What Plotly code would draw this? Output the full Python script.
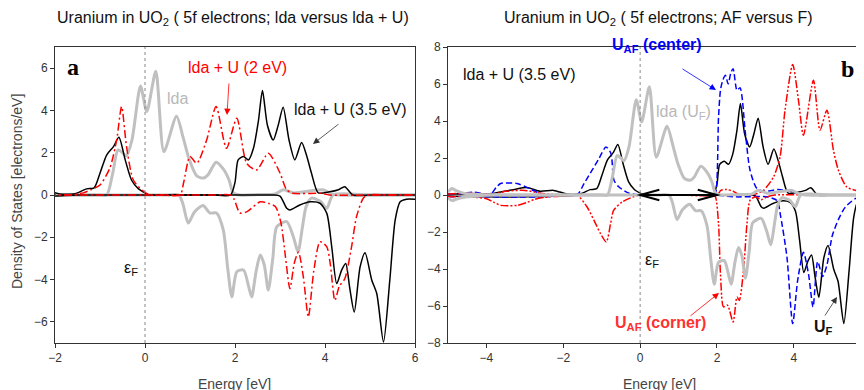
import plotly.graph_objects as go

# ---------------- data (energy in eV, DOS in electrons/eV) ----------------
# lda (gray), spin up / spin down
lda_up_e = [-5, -4.9, -4.8, -4.6, -4.4, -4.0, -3.0, -2.0, -1.5, -1.0, -0.85, -0.72, -0.6, -0.5, -0.42, -0.29, -0.1,
            0.04, 0.24, 0.42, 0.70, 0.85, 0.98, 1.15, 1.3, 1.4, 1.58, 1.75, 1.87, 1.96, 2.1, 2.5, 2.9, 3.07, 3.3,
            3.7, 3.95, 4.15, 4.3, 5.0, 6.0]
lda_up_dos = [0.15, 0.35, 0.25, 0.1, 0.05, 0, 0, 0, 0, 0, 0, 1.0, 2.13, 2.0, 1.85, 2.6, 5.15,
              3.95, 5.85, 2.05, 3.72, 2.7, 1.7, 0.9, 0.8, 0.95, 1.55, 1.2, 0.7, 0.1, 0, 0.02, 0.05, 0.25, 0.1,
              0.2, 0.25, 0.05, 0, 0, 0]
lda_dn_e = [-5, -4.9, -4.75, -4.5, -4.2, -4.0, -3.0, -2.0, -1.0, 0.0, 0.5, 0.75, 0.84, 0.96, 1.1, 1.29, 1.44, 1.59,
            1.74, 1.84, 1.93, 2.04, 2.19, 2.3, 2.37, 2.47, 2.56, 2.65, 2.74, 2.84, 2.93, 3.15, 3.3, 3.4, 3.5, 3.58,
            3.7, 3.9, 4.04, 4.18, 5.0, 6.0]
lda_dn_dos = [-0.15, -0.3, -0.2, -0.1, -0.05, 0, 0, 0, 0, 0, 0, 0, -0.4, -1.33, -0.8, -0.5, -0.85, -0.85,
              -1.66, -3.5, -4.82, -3.63, -3.55, -4.3, -4.82, -3.6, -2.84, -3.3, -4.5, -3.0, -1.5, -1.26, -2.0, -2.69, -1.5, -0.55,
              -0.15, -0.3, -0.63, 0, 0, 0]

# lda + U (2 eV), red dash-dot (left panel)
u2_up_e = [-5, -2, -1.6, -1.37, -1.2, -1.0, -0.78, -0.63, -0.52, -0.41, -0.26, -0.07, 0.1, 0.4, 0.78, 0.86, 1.0,
           1.15, 1.37, 1.58, 1.81, 2.04, 2.26, 2.48, 2.74, 3.0, 3.15, 3.3, 3.9, 4.1, 5.0, 6]
u2_up_dos = [0, 0, 0.02, 0.1, 0.25, 0.47, 1.28, 2.6, 4.18, 2.29, 0.71, 0.24, 0, 0, 0, 0.6, 1.82,
             1.5, 2.6, 4.18, 2.21, 3.63, 1.5, 1.18, 1.97, 1.04, 0.24, 0.08, 0.08, 0, 0, 0]
u2_dn_e = [-5, -2, 0, 1.0, 1.5, 1.9, 1.98, 2.11, 2.26, 2.56, 2.75, 2.9, 3.02, 3.12, 3.22, 3.32, 3.41, 3.52, 3.63,
           3.75, 3.89, 4.04, 4.12, 4.22, 4.32, 4.44, 4.59, 4.70, 4.85, 4.95, 5.5, 6]
u2_dn_dos = [0, 0, 0, 0, 0, 0, -0.2, -0.85, -0.8, -0.32, -0.4, -0.55, -1.3, -2.9, -4.43, -3.2, -2.7, -3.9, -5.77,
             -3.6, -2.21, -2.45, -3.3, -4.99, -4.3, -3.96, -2.45, -1.03, -0.15, 0, 0, 0]

# lda + U (3.5 eV), black (both panels; U_F)
u35_up_e = [-5, -4.5, -4.0, -3.8, -3.3, -2.95, -2.6, -2.25, -1.9, -1.6, -1.5, -1.3, -1.13, -1.0, -0.85, -0.7,
            -0.58, -0.44, -0.3, -0.15, 0.0, 0.1, 0.5, 1.0, 1.5, 1.9, 2.0, 2.07, 2.19, 2.3, 2.41, 2.52, 2.61, 2.72,
            2.85, 2.96, 3.07, 3.2, 3.33, 3.48, 3.6, 3.7, 3.85, 4.1, 4.3, 4.44, 4.62, 5.0, 5.5, 6]
u35_up_dos = [0.05, 0.05, 0.05, 0.1, 0.29, 0.4, 0.2, 0.25, 0.05, 0.05, 0.1, 0.29, 0.34, 1.03, 1.9, 2.29,
              2.73, 1.66, 0.71, 0.3, 0.1, 0, 0, 0, 0, 0, 0.6, 1.66, 1.82, 1.66, 2.21, 3.5, 4.94, 3.3,
              2.6, 3.3, 4.15, 2.6, 1.66, 2.48, 1.8, 1.03, 0.1, 0.15, 0.25, 0.39, 0, 0, 0, 0]
u35_dn_e = [-5, -4.0, -3.0, -2.0, -1.5, -1.0, 0, 1.0, 2.0, 2.5, 2.85, 3.0, 3.15, 3.22, 3.44, 3.67, 3.89, 4.04,
            4.15, 4.26, 4.37, 4.46, 4.55, 4.65, 4.78, 4.89, 5.04, 5.15, 5.30, 5.44, 5.56, 5.67, 5.81, 6.0]
u35_dn_dos = [-0.05, -0.1, -0.1, -0.05, 0, 0, 0, 0, 0, 0, 0, -0.05, -0.63, -0.71, -0.47, -0.32, -0.39, -0.87,
              -2.45, -4.19, -3.55, -3.24, -4.4, -5.53, -3.4, -2.73, -4.03, -4.66, -6.95, -4.03, -1.18, -0.32, -0.2, -0.2]

# U_AF (center), blue dashed (right panel)
afc_up_e = [-5, -4.6, -4.32, -3.89, -3.75, -3.63, -3.2, -2.94, -2.68, -2.42, -2.0, -1.64, -1.46, -1.25, -1.07,
            -0.89, -0.76, -0.68, -0.55, -0.29, 0, 0.5, 1.0, 1.5, 1.9, 1.96, 2.04, 2.09, 2.15, 2.22, 2.29, 2.36,
            2.42, 2.52, 2.6, 2.74, 2.86, 3.04, 3.25, 3.6, 4.0, 4.3, 5.0, 6]
afc_up_dos = [0.05, 0.1, 0.15, 0.05, 0.4, 0.62, 0.62, 0.4, 0.15, 0, 0, 0, 0.62, 1.34, 1.97,
              2.6, 2.24, 0.8, 0.43, 0.1, 0, 0, 0, 0, 0, 0.08, 4.2, 5.66, 6.2, 6.47, 6.0, 6.6,
              6.83, 5.66, 5.8, 3.32, 1.34, 0.35, 0.2, 0.3, 0.15, 0, 0, 0]
afc_dn_e = [-5, -4.0, -2.5, -2.0, -1.0, 0, 1.0, 1.9, 2.5, 3.3, 3.56, 3.66, 3.82, 3.97, 4.1, 4.25, 4.38, 4.5,
            4.62, 4.75, 4.86, 5.0, 5.17, 5.34, 5.6, 5.8, 6]
afc_dn_dos = [-0.1, -0.1, -0.1, 0, 0, 0, 0, 0, -0.1, -0.1, -0.3, -1.2, -3.35, -6.95, -4.6, -3.1, -4.25, -6.05,
              -3.6, -4.4, -3.8, -2.2, -1.28, -0.65, -0.2, -0.1, -0.05]

# U_AF (corner), red dash-dot-dot (right panel)
afk_up_e = [-5, -4.5, -3.8, -3.5, -3.0, -2.6, -2.0, -1.0, 0, 1.0, 2.0, 2.1, 2.25, 2.42, 2.55, 3.0, 3.21, 3.47,
            3.64, 3.77, 3.97, 4.12, 4.25, 4.51, 4.68, 4.86, 5.03, 5.16, 5.38, 5.7, 6]
afk_up_dos = [0.05, 0.1, 0.05, 0.2, 0.25, 0.1, 0, 0, 0, 0, 0, 0.25, 0.3, 0.2, 0.05, 0.05, 0.25, 0.97,
              2.05, 4.58, 7.06, 5.12, 3.23, 6.2, 3.5, 4.58, 2.42, 1.34, 0.43, 0.2, 0.1]
afk_dn_e = [-5, -4.5, -4.0, -3.8, -3.63, -3.2, -2.94, -2.77, -2.4, -1.9, -1.64, -1.38, -1.2, -1.03, -0.88,
            -0.77, -0.69, -0.47, -0.18, 0, 0.5, 1.0, 1.5, 1.9, 1.96, 2.04, 2.09, 2.17, 2.27, 2.42, 2.52, 2.58,
            2.69, 2.78, 2.86, 3.0, 3.15, 3.3, 3.5, 4.5, 5.5, 6]
afk_dn_dos = [-0.1, -0.1, -0.2, -0.4, -0.56, -0.56, -0.4, -0.25, -0.1, -0.05, 0, -0.65, -1.37, -2.09, -2.54,
              -1.55, -0.83, -0.38, -0.1, 0, 0, 0, 0, 0, -0.1, -1.55, -4.25, -6.05, -5.95, -6.86, -5.51, -5.7,
              -4.07, -1.55, -0.29, -0.1, -0.25, -0.1, 0, 0, 0, 0]

left_xticks = [-2, 0, 2, 4, 6]
left_yticks = [-6, -4, -2, 0, 2, 4, 6]
right_xticks = [-4, -2, 0, 2, 4]
right_yticks = [-8, -6, -4, -2, 0, 2, 4, 6, 8]

# ---------------- styles ----------------
W, H = 864, 390
OFF = 8  # page body margin: screen pixel -> figure pixel
GRAY = "#c0c0c0"
RED = "#ff0000"
BLUE = "#0000ff"
FONT = "Liberation Sans, Arial, sans-serif"
SERIF = "Liberation Serif, Times New Roman, serif"


def px(x):
    return (x - OFF) / W


def py(y):
    return 1 - (y - OFF) / H


fig = go.Figure()


def add(e, d, color, width, dash, xa, ya):
    fig.add_trace(go.Scatter(x=e, y=d, mode="lines", xaxis=xa, yaxis=ya, showlegend=False,
                             line=dict(color=color, width=width, dash=dash, shape="spline", smoothing=0.7),
                             hoverinfo="skip"))


DASHDOT = "8px,3px,2px,3px"
DASH = "6px,3px"
DASHDOTDOT = "8px,2px,2px,2px,2px,2px"

# left panel
for e, d in [(lda_up_e, lda_up_dos), (lda_dn_e, lda_dn_dos)]:
    add(e, d, GRAY, 3, "solid", "x", "y")
for e, d in [(u35_up_e, u35_up_dos), (u35_dn_e, u35_dn_dos)]:
    add(e, d, "black", 1.5, "solid", "x", "y")
for e, d in [(u2_up_e, u2_up_dos), (u2_dn_e, u2_dn_dos)]:
    add(e, d, RED, 1.5, DASHDOT, "x", "y")

# right panel
for e, d in [(u35_up_e, u35_up_dos), (u35_dn_e, u35_dn_dos)]:
    add(e, d, "black", 1.5, "solid", "x2", "y2")
for e, d in [(afc_up_e, afc_up_dos), (afc_dn_e, afc_dn_dos)]:
    add(e, d, BLUE, 1.5, DASH, "x2", "y2")
for e, d in [(afk_up_e, afk_up_dos), (afk_dn_e, afk_dn_dos)]:
    add(e, d, RED, 1.5, DASHDOTDOT, "x2", "y2")
for e, d in [(lda_up_e, lda_up_dos), (lda_dn_e, lda_dn_dos)]:
    add(e, d, GRAY, 3, "solid", "x2", "y2")

ydom = [py(343), py(47)]
axis_common = dict(showgrid=False, zeroline=False, showline=True, linecolor="#333", linewidth=1,
                   ticks="outside", ticklen=4, tickcolor="#333", automargin=False,
                   tickfont=dict(family=FONT, size=12, color="#333"))

fig.update_layout(
    width=W, height=H, template="none",
    margin=dict(l=0, r=0, t=0, b=0),
    paper_bgcolor="white", plot_bgcolor="white",
    xaxis=dict(domain=[px(55), px(415)], range=[-2, 6], tickvals=left_xticks, anchor="y", mirror=True, **axis_common),
    yaxis=dict(domain=ydom, range=[-7, 7], tickvals=left_yticks, anchor="x", mirror=True, **axis_common),
    xaxis2=dict(domain=[px(448), 1.0], range=[-5, (W + OFF - 639.7) / 38.5], tickvals=right_xticks, anchor="y2",
                mirror=True, **axis_common),
    yaxis2=dict(domain=ydom, range=[-8, 8], tickvals=right_yticks, anchor="x2", mirror=False, **axis_common),
)

# Fermi level dotted lines
for xr, yr in [("x", "y domain"), ("x2", "y2 domain")]:
    fig.add_shape(type="line", xref=xr, yref=yr, x0=0, x1=0, y0=0, y1=1,
                  line=dict(color="#888", width=1, dash="dot"))


def text(x, y, t, size=16, color="black", family=FONT, **kw):
    fig.add_annotation(x=px(x), y=py(y), xref="paper", yref="paper", text=t, showarrow=False,
                       font=dict(family=family, size=size, color=color), xanchor="center", yanchor="middle", **kw)


def arrow(x, y, ax, ay, color, width=0.8):
    fig.add_annotation(x=px(x), y=py(y), xref="paper", yref="paper", text="", showarrow=True,
                       ax=ax, ay=ay, arrowhead=2, arrowsize=1.6, arrowwidth=width, arrowcolor=color)


# titles
text(233, 18, "Uranium in UO<sub>2</sub> ( 5f electrons; lda versus lda + U)", size=16, color="#111")
text(658, 18, "Uranium in UO<sub>2</sub> ( 5f electrons; AF versus F)", size=16, color="#111")
# axis titles
text(235, 384, "Energy [eV]", size=14, color="#444")
text(659, 384, "Energy [eV]", size=14, color="#444")
text(17, 192, "Density of States [electrons/eV]", size=14, color="#444", textangle=-90)

# left panel labels
text(73, 67, "<b>a</b>", size=24, family=SERIF)
text(237, 67, "lda + U (2 eV)", color=RED)
arrow(227, 115, 2, -33, RED)
text(177, 98, "lda", color="#b8b8b8")
text(350, 110, "lda + U (3.5 eV)", color="#111")
arrow(313, 144, 27, -21, "#333")
text(131, 268, "ε<sub>F</sub>", size=16, color="#111")

# right panel labels
text(519, 74, "lda + U (3.5 eV)", color="#111")
text(657, 45, "<b>U<sub>AF</sub> (center)</b>", color=BLUE)
arrow(716, 90, -35, -22, BLUE)
text(683, 113, "lda (U<sub>F</sub>)", color="#b8b8b8")
text(847, 69, "<b>b</b>", size=24, family=SERIF)
text(652, 260, "ε<sub>F</sub>", size=16, color="#111")
text(660, 323, "<b>U<sub>AF</sub> (corner)</b>", color="#ff3030")
arrow(719, 293, -30, 24, RED)
text(823, 327, "<b>U<sub>F</sub></b>", color="#111")
arrow(837, 297, -13, 20, "#333")

# double-headed arrow marking the 0..2 eV gap (open chevron heads)
fig.add_shape(type="line", xref="x2", yref="y2", x0=0, x1=2, y0=0, y1=0, line=dict(color="black", width=2))
fig.add_shape(type="path", xref="x2", yref="y2", path="M 0.5,0.28 L 0,0 L 0.5,-0.28",
              line=dict(color="black", width=2))
fig.add_shape(type="path", xref="x2", yref="y2", path="M 1.5,0.28 L 2,0 L 1.5,-0.28",
              line=dict(color="black", width=2))

fig.write_html("out.html")
